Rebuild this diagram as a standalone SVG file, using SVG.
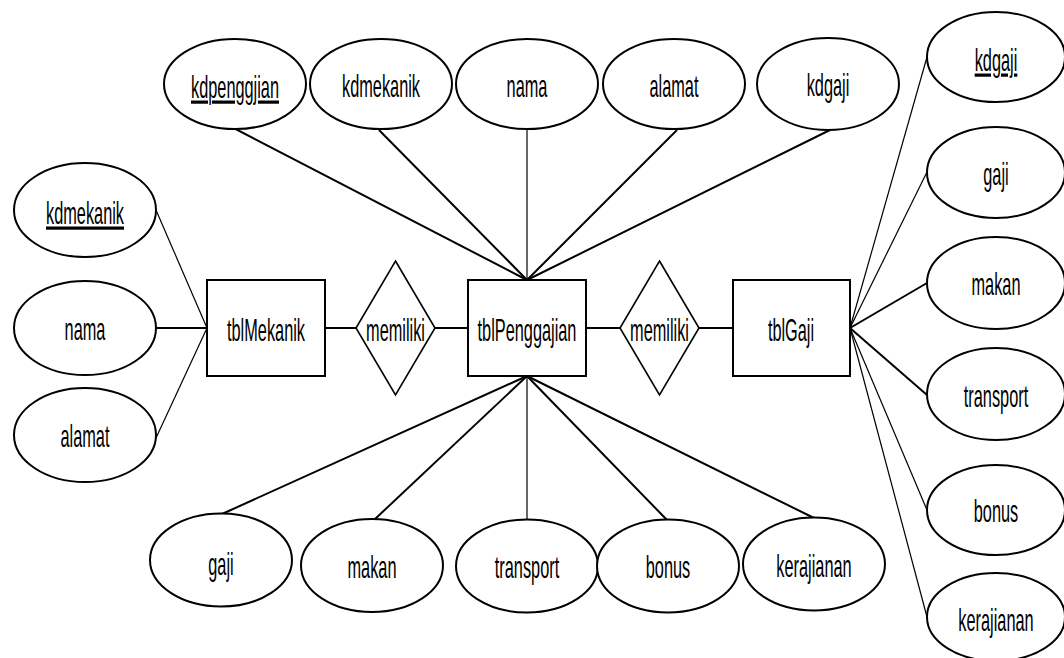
<svg xmlns="http://www.w3.org/2000/svg" width="1064" height="658" viewBox="0 0 1064 658">
  <style>
    .ent { fill: #fff; stroke: #000; stroke-width: 2; }
    .rel { fill: #fff; stroke: #000; stroke-width: 1.6; }
    .att { fill: #fff; stroke: #000; stroke-width: 2; }
    .lnk { stroke: #000; stroke-width: 2; fill: none; }
    .thin { stroke-width: 1.2; }
    .lbl { font-family: "Liberation Sans", Arial, sans-serif; font-size: 32px; fill: #000; text-anchor: middle; transform: scale(0.51, 1); }
    .key { text-decoration: underline; }
  </style>

  <rect width="1064" height="658" fill="#fff"/>

  <!-- connectors -->
  <g id="connectors">
    <line class="lnk" x1="226" y1="124" x2="527" y2="280"/>
    <line class="lnk" x1="379" y1="130" x2="527" y2="280"/>
    <line class="lnk thin" x1="527" y1="129" x2="527" y2="280"/>
    <line class="lnk" x1="677" y1="130" x2="527" y2="280"/>
    <line class="lnk" x1="830" y1="130" x2="527" y2="280"/>

    <line class="lnk" x1="527" y1="376" x2="222" y2="514"/>
    <line class="lnk" x1="527" y1="376" x2="374" y2="520"/>
    <line class="lnk thin" x1="527" y1="376" x2="527" y2="520"/>
    <line class="lnk" x1="527" y1="376" x2="667" y2="520"/>
    <line class="lnk" x1="527" y1="376" x2="814" y2="518"/>

    <line class="lnk thin" x1="156" y1="210" x2="207" y2="328"/>
    <line class="lnk" x1="156" y1="328" x2="207" y2="328"/>
    <line class="lnk thin" x1="156" y1="438" x2="207" y2="328"/>

    <line class="lnk" x1="325" y1="328" x2="356" y2="328"/>
    <line class="lnk" x1="435" y1="328" x2="468" y2="328"/>
    <line class="lnk" x1="586" y1="328" x2="620" y2="328"/>
    <line class="lnk" x1="699" y1="328" x2="733" y2="328"/>

    <line class="lnk thin" x1="850" y1="328" x2="927" y2="57"/>
    <line class="lnk thin" x1="850" y1="328" x2="927" y2="172"/>
    <line class="lnk" x1="850" y1="328" x2="927" y2="283"/>
    <line class="lnk" x1="850" y1="328" x2="927" y2="395"/>
    <line class="lnk thin" x1="850" y1="328" x2="927" y2="510"/>
    <line class="lnk thin" x1="850" y1="328" x2="927" y2="617"/>
  </g>

  <!-- entities -->
  <g id="tblMekanik">
    <rect class="ent" x="207" y="280" width="118" height="96"/>
    <g transform="translate(266,341)"><text class="lbl">tblMekanik</text></g>
  </g>
  <g id="tblPenggajian">
    <rect class="ent" x="468" y="280" width="118" height="96"/>
    <g transform="translate(527,341)"><text class="lbl">tblPenggajian</text></g>
  </g>
  <g id="tblGaji">
    <rect class="ent" x="733" y="280" width="117" height="96"/>
    <g transform="translate(791,341)"><text class="lbl">tblGaji</text></g>
  </g>

  <!-- relationships -->
  <g id="memiliki-1">
    <polygon class="rel" points="395.5,261 435,328 395.5,395 356,328"/>
    <g transform="translate(395.5,341)"><text class="lbl">memiliki</text></g>
  </g>
  <g id="memiliki-2">
    <polygon class="rel" points="659.5,261 699,328 659.5,395 620,328"/>
    <g transform="translate(659.5,341)"><text class="lbl">memiliki</text></g>
  </g>

  <!-- tblPenggajian attributes, upper row -->
  <g id="p-kdpenggjian">
    <ellipse class="att" cx="235" cy="84" rx="71" ry="45"/>
    <g transform="translate(235,98)"><text class="lbl key">kdpenggjian</text></g>
  </g>
  <g id="p-kdmekanik">
    <ellipse class="att" cx="381" cy="84" rx="71" ry="45"/>
    <g transform="translate(381,97)"><text class="lbl">kdmekanik</text></g>
  </g>
  <g id="p-nama">
    <ellipse class="att" cx="527" cy="84" rx="71" ry="45"/>
    <g transform="translate(527,97)"><text class="lbl">nama</text></g>
  </g>
  <g id="p-alamat">
    <ellipse class="att" cx="674" cy="84" rx="71" ry="45"/>
    <g transform="translate(674,97)"><text class="lbl">alamat</text></g>
  </g>
  <g id="p-kdgaji">
    <ellipse class="att" cx="828" cy="84" rx="71" ry="46"/>
    <g transform="translate(828,96)"><text class="lbl">kdgaji</text></g>
  </g>

  <!-- tblPenggajian attributes, lower row -->
  <g id="p-gaji">
    <ellipse class="att" cx="221" cy="560" rx="71" ry="46.5"/>
    <g transform="translate(221,575)"><text class="lbl">gaji</text></g>
  </g>
  <g id="p-makan">
    <ellipse class="att" cx="372" cy="565.5" rx="71" ry="46.5"/>
    <g transform="translate(372,578)"><text class="lbl">makan</text></g>
  </g>
  <g id="p-transport">
    <ellipse class="att" cx="527" cy="566" rx="71" ry="46.5"/>
    <g transform="translate(527,578)"><text class="lbl">transport</text></g>
  </g>
  <g id="p-bonus">
    <ellipse class="att" cx="668" cy="566" rx="71" ry="46.5"/>
    <g transform="translate(668,578)"><text class="lbl">bonus</text></g>
  </g>
  <g id="p-kerajianan">
    <ellipse class="att" cx="814" cy="564" rx="71" ry="46.5"/>
    <g transform="translate(814,577)"><text class="lbl">kerajianan</text></g>
  </g>

  <!-- tblMekanik attributes -->
  <g id="m-kdmekanik">
    <ellipse class="att" cx="85" cy="210" rx="71" ry="47"/>
    <g transform="translate(85,224)"><text class="lbl key">kdmekanik</text></g>
  </g>
  <g id="m-nama">
    <ellipse class="att" cx="85" cy="328" rx="71" ry="47"/>
    <g transform="translate(85,340)"><text class="lbl">nama</text></g>
  </g>
  <g id="m-alamat">
    <ellipse class="att" cx="85" cy="435" rx="71" ry="47"/>
    <g transform="translate(85,447)"><text class="lbl">alamat</text></g>
  </g>

  <!-- tblGaji attributes -->
  <g id="g-kdgaji">
    <ellipse class="att" cx="996" cy="57" rx="69" ry="45"/>
    <g transform="translate(996,71)"><text class="lbl key">kdgaji</text></g>
  </g>
  <g id="g-gaji">
    <ellipse class="att" cx="996" cy="172.5" rx="69" ry="45.5"/>
    <g transform="translate(996,185)"><text class="lbl">gaji</text></g>
  </g>
  <g id="g-makan">
    <ellipse class="att" cx="996" cy="283" rx="69" ry="46"/>
    <g transform="translate(996,295)"><text class="lbl">makan</text></g>
  </g>
  <g id="g-transport">
    <ellipse class="att" cx="996" cy="394" rx="69" ry="46"/>
    <g transform="translate(996,407)"><text class="lbl">transport</text></g>
  </g>
  <g id="g-bonus">
    <ellipse class="att" cx="996" cy="510" rx="69" ry="45"/>
    <g transform="translate(996,522)"><text class="lbl">bonus</text></g>
  </g>
  <g id="g-kerajianan">
    <ellipse class="att" cx="996" cy="617" rx="69" ry="44"/>
    <g transform="translate(996,631)"><text class="lbl">kerajianan</text></g>
  </g>
</svg>
